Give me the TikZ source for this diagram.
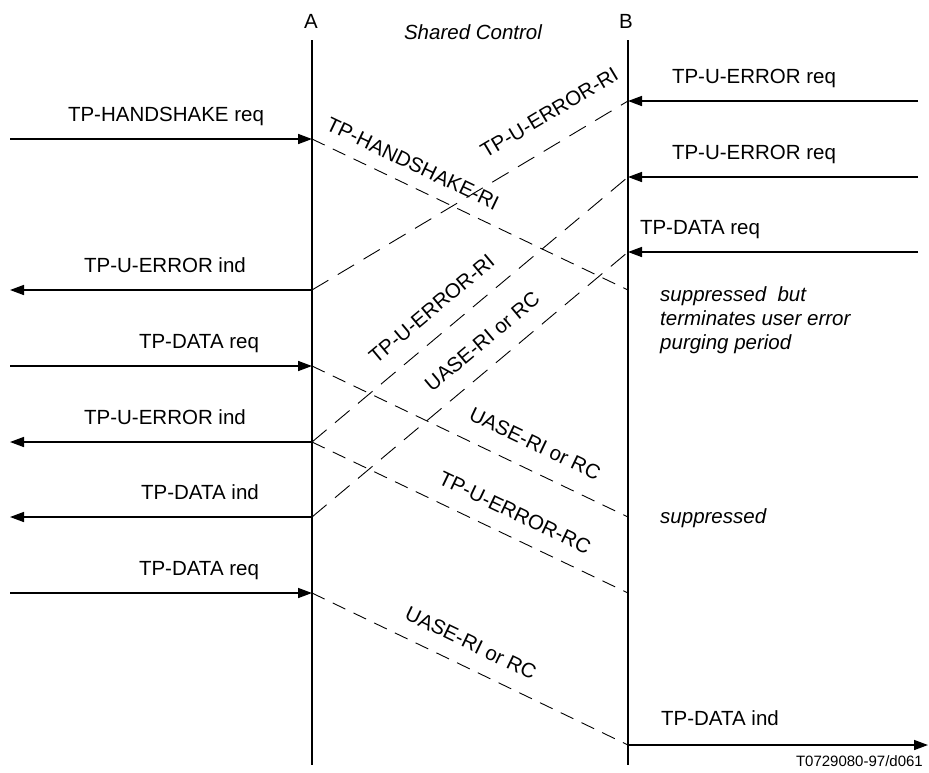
\documentclass[tikz,border=0pt]{standalone}
\usepackage{fontspec}
\setmainfont{Liberation Sans}
\usetikzlibrary{arrows.meta}
\begin{document}
\begin{tikzpicture}[x=1pt,y=-1pt,
  lbl/.style={font=\fontsize{20.5}{24}\selectfont, inner sep=0pt},
  note/.style={font=\fontsize{20.5}{24}\selectfont\itshape, inner sep=0pt, align=left},
  life/.style={line width=1.6pt},
  msg/.style={line width=1.6pt, -{Triangle[length=14pt,width=10pt]}},
  dsh/.style={line width=0.9pt, dash pattern=on 14pt off 9pt},
  dshl/.style={line width=0.9pt, dash pattern=on 19pt off 11pt},
  tl/.style={lbl, sloped}]
\useasboundingbox (0,0) rectangle (929,772);

% lifelines
\coordinate (Atop) at (312,40);
\coordinate (Abot) at (312,765);
\coordinate (Btop) at (628,40);
\coordinate (Bbot) at (628,765);
\draw[life] (Atop) -- (Abot);
\draw[life] (Btop) -- (Bbot);
\node[lbl, anchor=base] (hA) at (311,28) {A};
\node[lbl, anchor=base] (hB) at (626,28) {B};
\node[lbl, anchor=base, font=\fontsize{20.5}{24}\selectfont\itshape] (hS) at (473,39) {Shared Control};

% points on A
\coordinate (a1) at (312,139);
\coordinate (a2) at (312,290);
\coordinate (a3) at (312,366);
\coordinate (a4) at (312,442);
\coordinate (a5) at (312,517);
\coordinate (a6) at (312,593);
% points on B
\coordinate (b1) at (628,101);
\coordinate (b2) at (628,177);
\coordinate (b3) at (628,252);
\coordinate (b4) at (628,290);
\coordinate (b5) at (628,517);
\coordinate (b6) at (628,593);
\coordinate (b7) at (628,745);
% free ends left
\coordinate (l1) at (10,139);
\coordinate (l2) at (10,290);
\coordinate (l3) at (10,366);
\coordinate (l4) at (10,442);
\coordinate (l5) at (10,517);
\coordinate (l6) at (10,593);
% free ends right
\coordinate (r1) at (918,101);
\coordinate (r2) at (918,177);
\coordinate (r3) at (918,252);
\coordinate (r7) at (928,745);

% left messages
\draw[msg] (l1) -- (a1);
\draw[msg] (a2) -- (l2);
\draw[msg] (l3) -- (a3);
\draw[msg] (a4) -- (l4);
\draw[msg] (a5) -- (l5);
\draw[msg] (l6) -- (a6);
\node[lbl, anchor=base] (m1) at (166,121) {TP-HANDSHAKE req};
\node[lbl, anchor=base] (m2) at (165,272) {TP-U-ERROR ind};
\node[lbl, anchor=base] (m3) at (199,348) {TP-DATA req};
\node[lbl, anchor=base] (m4) at (165,424) {TP-U-ERROR ind};
\node[lbl, anchor=base] (m5) at (200,499) {TP-DATA ind};
\node[lbl, anchor=base] (m6) at (199,575) {TP-DATA req};

% right messages
\draw[msg] (r1) -- (b1);
\draw[msg] (r2) -- (b2);
\draw[msg] (r3) -- (b3);
\draw[msg] (b7) -- (r7);
\node[lbl, anchor=base] (n1) at (754,83) {TP-U-ERROR req};
\node[lbl, anchor=base] (n2) at (754,159) {TP-U-ERROR req};
\node[lbl, anchor=base] (n3) at (700,234) {TP-DATA req};
\node[lbl, anchor=base] (n7) at (720,725) {TP-DATA ind};

% dashed transfers
\draw[dsh] (a1) -- (b4) node[tl, pos=0.29, above=13.5pt] (t1) {TP-HANDSHAKE-RI};
\draw[dshl] (a2) -- (b1) node[tl, pos=0.80, above=22.5pt] (t2) {TP-U-ERROR-RI};
\draw[dshl] (a4) -- (b2) node[tl, pos=0.43, above=17.5pt] (t3) {TP-U-ERROR-RI};
\draw[dshl] (a5) -- (b3) node[tl, pos=0.59, above=17.5pt] (t4) {UASE-RI or RC};
\draw[dsh] (a3) -- (b5) node[tl, pos=0.67, above=18.5pt] (t5) {UASE-RI or RC};
\draw[dsh] (a4) -- (b6) node[tl, pos=0.61, above=16pt] (t6) {TP-U-ERROR-RC};
\draw[dsh] (a6) -- (b7) node[tl, pos=0.47, above=16pt] (t7) {UASE-RI or RC};

% notes
\node[note, anchor=base west] (s1) at (660,301) {suppressed~ but};
\node[note, anchor=base west] (s2) at (660,325) {terminates user error};
\node[note, anchor=base west] (s3) at (660,349) {purging period};
\node[note, anchor=base west] (s4) at (660,523) {suppressed};

\node[font=\fontsize{15}{18}\selectfont, inner sep=0pt, anchor=base east] (ref) at (923,766) {T0729080-97/d061};
\end{tikzpicture}
\end{document}
